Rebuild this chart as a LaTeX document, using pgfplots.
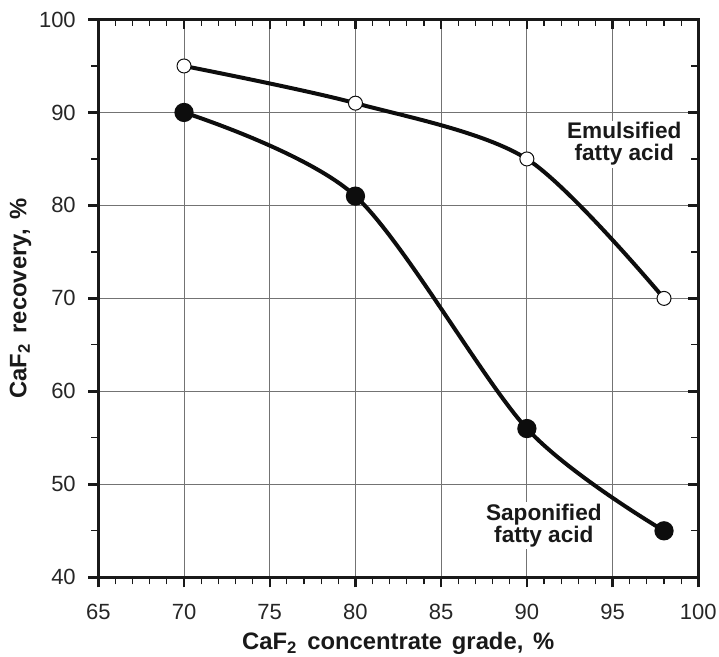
\documentclass[border=0pt]{standalone}
\usepackage{fontspec}
\setmainfont{Liberation Sans}
\usepackage{pgfplots}
\pgfplotsset{compat=1.18}
\newcommand{\wsp}{\hspace{4.9pt}}
\begin{document}
\begin{tikzpicture}
\begin{axis}[
  name=ax,
  scale only axis,
  width=300pt, height=278.9pt,
  xmin=65, xmax=100, ymin=40, ymax=100,
  xtick={65,70,...,100}, ytick={40,50,...,100},
  minor x tick num=4, minor y tick num=1,
  /pgf/number format/assume math mode=true,
  tick label style={font=\fontsize{11pt}{12pt}\selectfont, text=black!85},
  label style={font=\fontsize{11.9pt}{13pt}\selectfont\bfseries, text=black!90},
  xlabel={CaF\textsubscript{2}\wsp concentrate\wsp grade,\wsp\%},
  ylabel={CaF\textsubscript{2}\wsp recovery,\wsp\%},
  xlabel style={yshift=0.6pt},
  ylabel style={yshift=-3pt},
  axis line style={line width=1.5pt, black!90},
  tick align=center,
  major tick length=5pt, minor tick length=3.5pt,
  every tick/.style={black!90},
  every major tick/.append style={line width=1.2pt},
  every minor tick/.append style={line width=0.6pt},
  every major x tick/.append style={yshift=-2.5pt},
  every minor x tick/.append style={yshift=-1.75pt},
  every major y tick/.append style={xshift=-2.5pt},
  every minor y tick/.append style={xshift=-1.75pt},
  grid=major,
  major grid style={black!55, line width=0.5pt},
  xticklabel style={yshift=-7.5pt},
  yticklabel style={xshift=-5.25pt},
]
\addplot[black!95, line width=2pt, smooth, mark=*, mark size=3.8pt,
  mark options={fill=black!95}] coordinates {(70,90) (80,81) (90,56) (98,45)};
\addplot[black!95, line width=2pt, smooth, mark=*, mark size=3.5pt,
  mark options={fill=white, line width=0.5pt}] coordinates {(70,95) (80,91) (90,85) (98,70)};
\node[align=center, font=\fontsize{11.3pt}{11pt}\selectfont\bfseries, text=black!90, fill=white, inner sep=1pt]
  at (axis cs:95.68,86.6) {Emulsified\\fatty acid};
\node[align=center, font=\fontsize{11.3pt}{11pt}\selectfont\bfseries, text=black!90, fill=white, inner sep=1pt]
  at (axis cs:90.99,45.54) {Saponified\\fatty acid};
\end{axis}
\pgfresetboundingbox
\path[use as bounding box] ([xshift=-49.15pt,yshift=-39.35pt]ax.south west) rectangle ([xshift=10.35pt,yshift=9.75pt]ax.north east);
\end{tikzpicture}
\end{document}
